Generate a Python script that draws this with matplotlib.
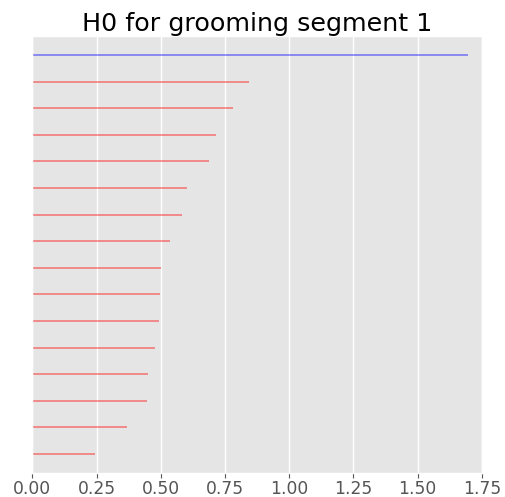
import numpy as np
import matplotlib
matplotlib.use("Agg")
from matplotlib import pyplot as plt

# Persistence bars (birth, death) for dimension 0, longest first
births = [0.0] * 16
deaths = [1.697, 0.844, 0.780, 0.715, 0.689, 0.602, 0.583, 0.538,
          0.502, 0.499, 0.493, 0.478, 0.450, 0.445, 0.368, 0.243]
colors = ["blue"] + ["red"] * 15

plt.style.use("ggplot")
fig, ax = plt.subplots(figsize=(5.05, 4.97), dpi=100)

n = len(deaths)
for i, (b, d, c) in enumerate(zip(births, deaths, colors)):
    y = n - 1 - i
    ax.hlines(y, b, d, color=c, alpha=0.4, linewidth=1.4)

ax.set_xlim(0, 1.75)
ax.set_ylim(-0.72, n - 1 + 0.72)
ax.set_xticks(np.arange(0, 1.76, 0.25))
ax.set_yticks([])
ax.grid(True, axis="x", color="white", linewidth=1)
ax.tick_params(axis="x", labelsize=12.3, colors="#555555", length=3.5, pad=1.5)
ax.set_title("H0 for grooming segment 1", fontsize=18.3, color="black", pad=1)

fig.subplots_adjust(left=0.064, right=0.954, top=0.928, bottom=0.048)
fig.savefig("out.png")
